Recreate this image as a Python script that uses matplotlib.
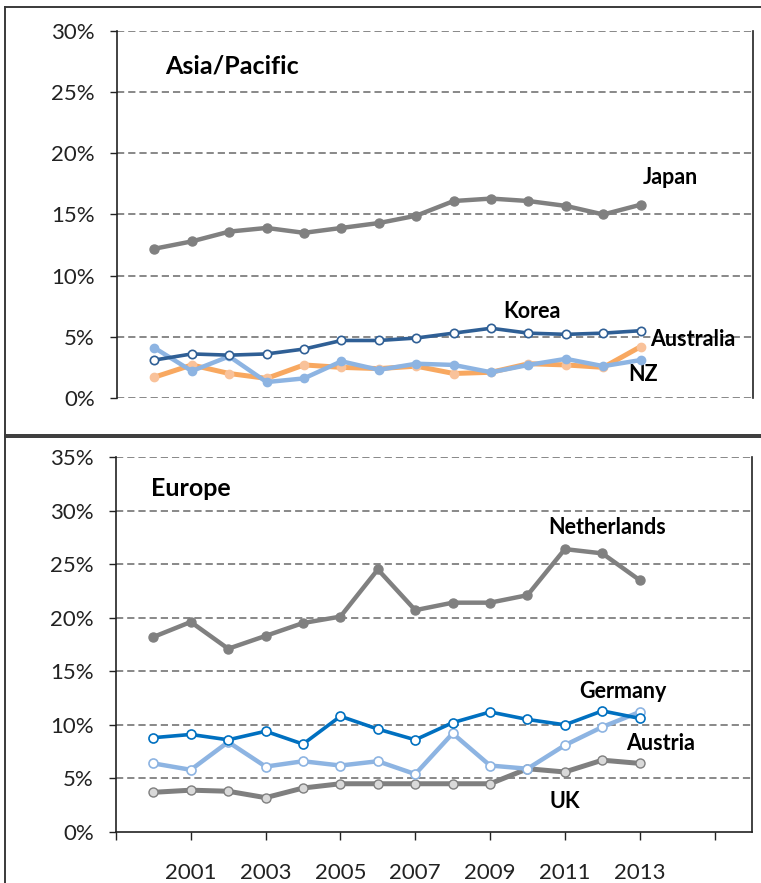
import matplotlib
matplotlib.use('Agg')
import matplotlib.pyplot as plt
from matplotlib.lines import Line2D

plt.rcParams['font.family'] = ['Lato', 'DejaVu Sans']

years = list(range(2000, 2014))

# Asia/Pacific, share in %
japan = [12.2, 12.8, 13.6, 13.9, 13.5, 13.9, 14.3, 14.9, 16.1, 16.3, 16.1, 15.7, 15.0, 15.8]
korea = [3.1, 3.6, 3.5, 3.6, 4.0, 4.7, 4.7, 4.9, 5.3, 5.7, 5.3, 5.2, 5.3, 5.5]
australia = [1.7, 2.7, 2.0, 1.6, 2.7, 2.5, 2.4, 2.6, 2.0, 2.1, 2.8, 2.7, 2.5, 4.2]
nz = [4.1, 2.2, 3.4, 1.3, 1.6, 3.0, 2.3, 2.8, 2.7, 2.1, 2.7, 3.2, 2.6, 3.1]

# Europe, share in %
netherlands = [18.2, 19.6, 17.1, 18.3, 19.5, 20.1, 24.5, 20.7, 21.4, 21.4, 22.1, 26.4, 26.0, 23.5]
germany = [8.8, 9.1, 8.6, 9.4, 8.2, 10.8, 9.6, 8.6, 10.2, 11.2, 10.5, 10.0, 11.3, 10.6]
austria = [6.4, 5.8, 8.4, 6.1, 6.6, 6.2, 6.6, 5.4, 9.2, 6.2, 5.9, 8.1, 9.8, 11.2]
uk = [3.7, 3.9, 3.8, 3.2, 4.1, 4.5, 4.5, 4.5, 4.5, 4.5, 5.9, 5.6, 6.7, 6.4]

xtick_pos = list(range(1999, 2016, 2))
xtick_labels = ['', '2001', '2003', '2005', '2007', '2009', '2011', '2013', '']

fig = plt.figure(figsize=(7.61, 8.83), dpi=100)

# panel frames
frame = dict(color='#3a3a3a', lw=1.4, transform=fig.transFigure)
fig.add_artist(Line2D([0.0066, 0.0066], [0.0, 0.992], **frame))
fig.add_artist(Line2D([0.0066, 1.0], [0.992, 0.992], **frame))
fig.add_artist(Line2D([0.0066, 1.0], [0.5074, 0.5074], **frame))
fig.add_artist(Line2D([0.0066, 1.0], [0.5051, 0.5051], **frame))

ax1 = fig.add_axes([0.1537, 0.5493, 0.8357, 0.4156])
ax2 = fig.add_axes([0.1524, 0.0578, 0.8357, 0.4247])


def style_axis(ax, ymax):
    ax.set_xlim(1999, 2016)
    ax.set_ylim(0, ymax)
    ax.set_yticks(range(0, ymax + 1, 5))
    ax.set_yticklabels([f"{v}%" for v in range(0, ymax + 1, 5)])
    for v in range(5, ymax + 1, 5):
        ax.axhline(v, color='#7f7f7f', lw=1.3, ls=(0, (4, 2.2)), zorder=0)
    ax.spines['top'].set_visible(False)
    for s in ('left', 'right'):
        ax.spines[s].set_color('#222222')
        ax.spines[s].set_linewidth(1.2)
    ax.tick_params(axis='y', direction='out', length=5, width=1, pad=11,
                   labelsize=16, colors='#222222')


# --- Asia/Pacific
style_axis(ax1, 30)
ax1.axhline(0, color='#7f7f7f', lw=1.3, ls=(0, (4, 2.2)), zorder=0)
ax1.spines['bottom'].set_visible(False)
ax1.tick_params(axis='x', bottom=False, labelbottom=False)

ax1.plot(years, australia, color='#f8a860', lw=3.6, marker='o', ms=6,
         mfc='#f9c29a', mec='#f9c29a', zorder=3)
ax1.plot(years, nz, color='#8db4e2', lw=3.2, marker='o', ms=6,
         mfc='#8db4e2', mec='#8db4e2', zorder=4)
ax1.plot(years, korea, color='#2f5f95', lw=2.6, marker='o', ms=6,
         mfc='white', mec='#2f5f95', mew=1.2, zorder=5)
ax1.plot(years, japan, color='#808080', lw=3.2, marker='o', ms=6.5,
         mfc='#808080', mec='#808080', zorder=5)

lab = dict(fontsize=15.5, fontweight='bold', ha='center', va='center')
ax1.text(2013.8, 18.0, 'Japan', **lab)
ax1.text(2010.1, 7.1, 'Korea', **lab)
ax1.text(2014.4, 4.8, 'Australia', **lab)
ax1.text(2013.05, 1.9, 'NZ', **lab)
ax1.text(0.075, 0.905, 'Asia/Pacific', transform=ax1.transAxes,
         fontsize=18, fontweight='bold', ha='left', va='center')

# --- Europe
style_axis(ax2, 35)
ax2.spines['bottom'].set_color('#222222')
ax2.spines['bottom'].set_linewidth(1.2)
ax2.set_xticks(xtick_pos)
ax2.set_xticklabels(xtick_labels)
ax2.tick_params(axis='x', direction='out', length=6, width=1, pad=16,
                labelsize=16, colors='#222222')

ax2.plot(years, uk, color='#7f7f7f', lw=3.6, marker='o', ms=6.5,
         mfc='#d9d9d9', mec='#7f7f7f', mew=1.0, zorder=3)
ax2.plot(years, austria, color='#8db4e2', lw=3.2, marker='o', ms=6.5,
         mfc='white', mec='#8db4e2', mew=1.2, zorder=4)
ax2.plot(years, germany, color='#0070c0', lw=2.6, marker='o', ms=6.5,
         mfc='white', mec='#0070c0', mew=1.2, zorder=5)
ax2.plot(years, netherlands, color='#808080', lw=3.2, marker='o', ms=6.5,
         mfc='#808080', mec='#808080', zorder=5)

ax2.text(2012.13, 28.4, 'Netherlands', **lab)
ax2.text(2012.56, 13.1, 'Germany', **lab)
ax2.text(2013.55, 8.3, 'Austria', **lab)
ax2.text(2011.0, 2.8, 'UK', **lab)
ax2.text(0.055, 0.915, 'Europe', transform=ax2.transAxes,
         fontsize=18, fontweight='bold', ha='left', va='center')

plt.savefig('out.png', dpi=100)
plt.close()
